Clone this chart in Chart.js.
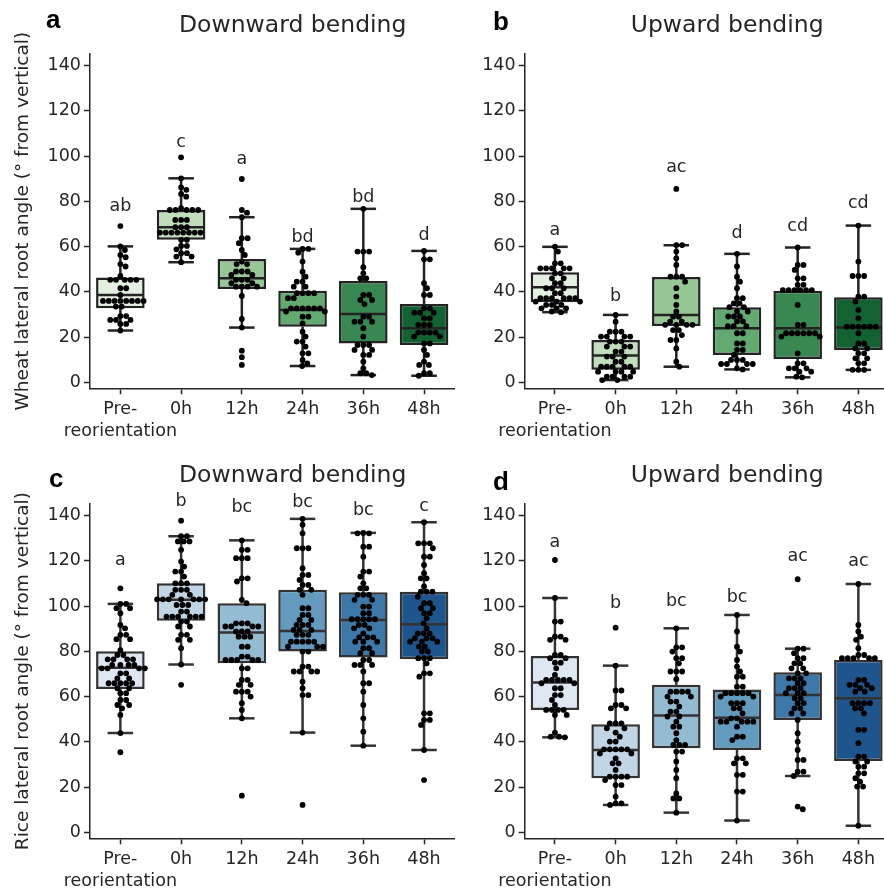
<!DOCTYPE html>
<html>
<head>
<meta charset="utf-8">
<script src="https://cdn.jsdelivr.net/npm/chart.js@4.4.0/dist/chart.umd.min.js"></script>
<style>
  html, body { margin: 0; padding: 0; overflow: hidden; background: #fff; width: 884px; height: 890px; }
  canvas { position: absolute; }
</style>
</head>
<body>
<canvas id="panelA" width="460" height="450" style="left:0;top:0"></canvas>
<canvas id="panelB" width="440" height="450" style="left:460px;top:0"></canvas>
<canvas id="panelC" width="460" height="440" style="left:0;top:450px"></canvas>
<canvas id="panelD" width="440" height="440" style="left:460px;top:450px"></canvas>
<script>
// categories and ticks
const categories = ["Pre-\nreorientation", "0h", "12h", "24h", "36h", "48h"];
const yTicks = [0, 20, 40, 60, 80, 100, 120, 140];

const greens = ["#e3f0df", "#c0debb", "#96c794", "#63aa70", "#398751", "#136332"];
const blues = ["#dde8f2", "#c0d5e5", "#93bbd2", "#629bbe", "#3d79a8", "#1e558c"];

// a: wheat, downward bending
const wheatDownPoints = [
  [69.1, 60.1, 58.5, 56.3, 55.3, 52.3, 51.2, 47.0, 45.3, 45.3, 45.3, 45.3, 45.3, 41.6, 41.6, 38.6, 36.0, 36.0, 36.0, 36.0, 36.0, 36.0, 36.0, 36.0, 33.5, 33.5, 29.3, 29.3, 27.6, 27.6, 27.6, 25.8, 25.8, 22.9],
  [99.5, 90.2, 86.2, 85.1, 83.3, 82.1, 77.0, 76.2, 76.2, 76.2, 76.2, 76.2, 71.8, 71.8, 71.8, 68.6, 68.6, 68.6, 66.2, 66.2, 66.2, 66.2, 66.2, 66.2, 66.2, 66.2, 63.0, 63.0, 60.3, 60.3, 58.8, 57.1, 57.1, 55.6, 55.6, 53.1],
  [89.9, 76.2, 75.0, 73.0, 63.7, 63.7, 61.5, 58.5, 56.3, 53.4, 52.3, 52.3, 49.0, 49.0, 49.0, 47.5, 47.5, 45.3, 45.3, 45.3, 43.8, 43.8, 42.3, 42.3, 42.3, 42.3, 38.2, 28.0, 24.2, 14.0, 11.1, 7.7],
  [59.0, 59.0, 57.3, 53.4, 48.9, 46.7, 44.5, 44.5, 42.3, 42.3, 39.4, 39.4, 39.4, 39.4, 37.2, 37.2, 32.7, 32.7, 32.7, 32.7, 32.7, 32.7, 31.3, 31.3, 29.0, 29.0, 26.1, 22.4, 20.2, 18.0, 18.0, 15.8, 12.8, 12.8, 9.9, 8.4, 7.2],
  [76.7, 57.8, 57.8, 57.8, 50.9, 48.2, 46.0, 46.0, 38.6, 38.6, 36.4, 36.4, 34.6, 29.0, 29.0, 26.8, 26.8, 26.8, 23.9, 20.2, 16.5, 16.5, 16.5, 14.3, 14.3, 12.1, 12.1, 9.1, 6.2, 4.0, 4.0, 3.2],
  [58.1, 54.4, 54.4, 43.8, 41.6, 38.6, 38.6, 32.7, 32.7, 30.8, 30.8, 30.8, 28.3, 28.3, 25.4, 25.4, 25.4, 22.0, 22.0, 22.0, 22.0, 20.2, 20.2, 17.2, 17.2, 14.3, 12.1, 9.1, 7.7, 7.7, 4.0, 4.0, 2.9]
];
const wheatDownQ1 = [32.7, 63.0, 41.3, 24.6, 17.2, 16.5];
const wheatDownMedian = [38.6, 68.6, 46.0, 32.0, 30.2, 23.9];
const wheatDownQ3 = [46.3, 76.2, 54.5, 40.5, 44.8, 34.6];
const wheatDownLow = [22.9, 53.1, 24.2, 7.2, 3.2, 2.9];
const wheatDownHigh = [60.1, 90.2, 73.0, 59.0, 76.7, 58.1];
const wheatDownLetters = ["ab", "c", "a", "bd", "bd", "d"];
const wheatDownLetterY = [75.9, 104.2, 96.4, 62.0, 79.7, 62.9];

// b: wheat, upward bending
const wheatUpPoints = [
  [60.0, 57.8, 52.6, 52.6, 50.4, 50.4, 50.4, 50.4, 50.4, 48.2, 48.2, 46.0, 46.0, 43.8, 43.8, 41.6, 41.6, 41.6, 39.4, 39.4, 37.2, 37.2, 37.2, 37.2, 37.2, 37.2, 35.7, 35.7, 35.7, 34.2, 34.2, 34.2, 32.7, 32.7, 32.7, 31.3, 31.0],
  [29.8, 26.8, 22.4, 22.4, 22.4, 20.2, 20.2, 20.2, 20.2, 18.0, 18.0, 18.0, 15.8, 15.8, 15.8, 13.6, 13.6, 11.4, 11.4, 11.4, 9.1, 9.1, 6.9, 6.9, 6.9, 6.9, 6.9, 4.7, 4.7, 4.7, 4.7, 2.5, 2.5, 2.5, 2.5, 1.0, 1.0],
  [85.5, 60.7, 60.7, 57.8, 54.8, 51.9, 46.7, 46.7, 46.7, 44.5, 41.6, 37.9, 34.2, 31.3, 29.0, 29.0, 26.8, 26.8, 25.4, 25.4, 25.4, 25.4, 23.1, 23.1, 20.9, 18.7, 18.7, 15.0, 9.1, 6.9],
  [56.8, 51.2, 46.7, 44.5, 41.6, 37.2, 37.2, 34.9, 34.9, 33.2, 33.2, 31.3, 31.3, 29.1, 29.1, 29.1, 26.9, 26.9, 24.8, 24.8, 24.8, 21.7, 21.7, 17.2, 17.2, 14.3, 14.3, 12.1, 9.9, 9.9, 9.9, 8.1, 8.1, 8.1, 8.1, 6.2, 5.7],
  [59.6, 51.9, 51.9, 49.7, 46.0, 46.0, 43.1, 43.1, 40.8, 40.8, 40.8, 40.8, 40.8, 40.8, 34.2, 25.4, 25.4, 21.7, 21.7, 21.7, 21.7, 21.7, 21.7, 20.2, 20.2, 12.8, 8.4, 8.4, 6.2, 6.2, 6.2, 4.7, 4.7, 2.5, 2.2],
  [69.3, 53.4, 47.0, 47.0, 47.0, 37.9, 37.9, 35.7, 32.0, 28.3, 24.6, 24.6, 24.6, 24.6, 24.6, 24.6, 21.7, 17.2, 17.2, 15.0, 15.0, 12.8, 12.8, 10.6, 10.6, 8.4, 8.4, 5.5, 5.5, 5.5]
];
const wheatUpQ1 = [35.4, 5.5, 24.9, 12.1, 10.3, 14.3];
const wheatUpMedian = [42.0, 11.8, 29.8, 23.9, 23.9, 24.2];
const wheatUpQ3 = [48.7, 18.7, 46.6, 33.2, 40.5, 37.6];
const wheatUpLow = [31.0, 1.0, 6.9, 5.7, 2.2, 5.5];
const wheatUpHigh = [59.9, 29.8, 60.6, 56.8, 59.6, 69.3];
const wheatUpLetters = ["a", "b", "ac", "d", "cd", "cd"];
const wheatUpLetterY = [65.2, 36.0, 93.2, 64.0, 66.9, 77.0];

// c: rice, downward bending
const riceDownPoints = [
  [107.9, 101.0, 101.0, 99.1, 99.1, 96.9, 91.7, 90.2, 87.3, 87.3, 85.4, 85.4, 80.6, 78.4, 78.4, 76.5, 76.5, 76.5, 76.5, 74.0, 74.0, 74.0, 74.0, 72.5, 72.5, 72.5, 72.5, 70.3, 70.3, 68.1, 68.1, 65.9, 65.9, 65.9, 65.9, 65.9, 63.7, 63.7, 61.5, 61.5, 58.5, 58.5, 56.3, 56.3, 54.8, 51.9, 43.9, 35.4],
  [137.8, 130.9, 130.9, 128.6, 128.6, 128.6, 124.9, 119.7, 117.5, 115.3, 115.3, 113.1, 110.1, 110.1, 110.1, 107.2, 107.2, 107.2, 105.0, 105.0, 103.0, 103.0, 103.0, 103.0, 103.0, 103.0, 103.0, 100.5, 100.5, 100.5, 97.6, 97.6, 95.4, 95.4, 95.4, 95.4, 95.4, 95.4, 93.2, 93.2, 91.0, 91.0, 87.3, 87.3, 85.1, 85.1, 81.4, 74.2, 65.2],
  [129.1, 124.9, 124.9, 121.2, 121.2, 121.2, 112.3, 112.3, 110.9, 102.8, 101.3, 92.4, 92.4, 92.4, 91.0, 91.0, 91.0, 91.0, 88.8, 88.8, 88.8, 86.5, 86.5, 86.5, 82.1, 82.1, 77.7, 77.7, 76.2, 76.2, 76.2, 76.2, 76.2, 72.5, 72.5, 67.4, 67.4, 65.2, 65.2, 62.2, 62.2, 62.2, 60.0, 57.1, 54.1, 50.4, 16.2],
  [138.6, 136.0, 132.2, 125.6, 125.6, 125.6, 116.8, 113.8, 113.8, 111.6, 109.4, 109.4, 107.2, 107.2, 105.0, 99.1, 99.1, 96.1, 96.1, 93.9, 93.9, 91.7, 91.7, 91.7, 89.5, 89.5, 89.5, 87.3, 87.3, 87.3, 84.3, 84.3, 84.3, 84.3, 84.3, 82.1, 82.1, 82.1, 79.9, 79.9, 73.3, 73.3, 71.1, 71.1, 71.1, 71.1, 66.6, 63.7, 60.7, 60.7, 44.1, 12.1],
  [132.4, 132.2, 132.2, 126.3, 126.3, 121.9, 115.3, 115.3, 113.1, 110.1, 107.9, 107.9, 105.0, 105.0, 105.0, 102.8, 102.8, 99.8, 99.8, 96.9, 96.9, 94.2, 94.2, 94.2, 94.2, 94.2, 91.7, 91.7, 90.2, 90.2, 88.0, 86.2, 86.2, 86.2, 84.3, 84.3, 84.3, 81.4, 81.4, 79.2, 79.2, 76.2, 76.2, 74.0, 74.0, 74.0, 71.1, 65.9, 65.9, 62.2, 56.3, 50.4, 44.5, 38.3],
  [137.1, 127.8, 127.8, 127.8, 125.6, 121.9, 121.9, 118.2, 114.6, 112.3, 112.3, 108.7, 106.4, 106.4, 106.4, 104.2, 101.3, 101.3, 99.1, 99.1, 96.9, 96.9, 94.6, 92.4, 90.2, 88.0, 88.0, 88.0, 85.8, 85.8, 85.8, 84.3, 84.3, 84.3, 82.1, 82.1, 79.9, 79.9, 77.0, 77.0, 77.0, 74.7, 70.3, 70.3, 68.8, 52.6, 52.6, 49.7, 49.7, 47.5, 36.4, 23.1]
];
const riceDownQ1 = [63.4, 93.5, 74.7, 79.9, 77.3, 76.5];
const riceDownMedian = [72.8, 102.8, 88.3, 89.0, 93.9, 92.0];
const riceDownQ3 = [80.1, 110.1, 101.3, 107.2, 106.1, 106.4];
const riceDownLow = [43.9, 74.2, 50.4, 44.1, 38.3, 36.4];
const riceDownHigh = [101.0, 130.9, 129.1, 138.6, 132.4, 137.1];
const riceDownLetters = ["a", "b", "bc", "bc", "bc", "c"];
const riceDownLetterY = [118.2, 144.3, 141.8, 144.0, 140.1, 142.1];

// d: rice, upward bending
const riceUpPoints = [
  [120.4, 103.6, 93.2, 93.2, 86.5, 86.5, 85.1, 85.1, 78.4, 78.4, 77.0, 77.0, 75.0, 75.0, 72.5, 69.6, 67.4, 67.4, 67.4, 67.4, 67.4, 65.9, 65.9, 63.7, 63.7, 60.7, 60.7, 58.5, 56.3, 54.1, 54.1, 54.1, 54.1, 51.9, 51.9, 44.1, 42.3, 42.3, 42.0],
  [90.5, 73.7, 62.7, 62.7, 56.3, 56.3, 54.8, 54.8, 48.2, 48.2, 48.2, 46.0, 46.0, 44.1, 42.3, 40.1, 40.1, 36.7, 36.7, 36.7, 36.7, 36.7, 34.9, 34.9, 32.7, 30.5, 30.5, 27.6, 24.6, 24.6, 24.6, 24.6, 23.1, 20.9, 20.9, 15.8, 12.8, 12.8, 12.1],
  [90.2, 81.8, 81.8, 79.9, 77.0, 77.0, 74.7, 71.1, 71.1, 71.1, 67.7, 62.2, 62.2, 62.2, 62.2, 60.0, 60.0, 57.8, 57.8, 55.6, 53.4, 53.4, 51.2, 51.2, 48.9, 46.7, 46.7, 43.8, 40.8, 38.6, 38.6, 38.6, 35.7, 35.7, 31.3, 27.6, 23.9, 17.2, 15.0, 15.0, 8.7],
  [96.1, 88.8, 82.1, 79.9, 76.2, 73.3, 71.1, 68.8, 68.8, 64.4, 64.4, 61.5, 61.5, 61.5, 61.5, 61.5, 60.0, 60.0, 57.1, 57.1, 57.1, 54.8, 54.8, 52.6, 50.4, 50.4, 48.9, 48.9, 48.9, 48.9, 48.9, 46.7, 42.3, 42.3, 40.8, 32.7, 32.7, 30.5, 30.5, 25.4, 25.4, 18.0, 18.0, 5.2],
  [111.9, 81.2, 81.2, 79.2, 77.0, 77.0, 74.7, 74.7, 72.5, 72.5, 70.3, 70.3, 68.1, 68.1, 68.1, 65.9, 65.9, 63.7, 63.7, 63.7, 61.5, 61.5, 61.5, 59.3, 59.3, 57.1, 57.1, 54.8, 54.8, 52.6, 52.6, 49.7, 43.8, 40.1, 36.4, 32.0, 32.0, 26.8, 26.8, 24.9, 11.4, 10.2],
  [109.8, 91.7, 88.8, 86.5, 85.1, 81.4, 78.4, 78.4, 77.0, 77.0, 77.0, 77.0, 77.0, 67.4, 67.4, 65.2, 65.2, 65.2, 63.7, 63.7, 62.2, 62.2, 57.1, 57.1, 57.1, 57.1, 54.8, 54.8, 52.6, 45.3, 45.3, 39.4, 33.5, 33.5, 31.3, 31.3, 29.0, 29.0, 26.1, 26.1, 23.9, 22.4, 20.2, 20.2, 2.9]
];
const riceUpQ1 = [54.1, 23.9, 37.2, 36.4, 49.7, 31.5];
const riceUpMedian = [66.2, 36.4, 51.6, 50.7, 60.7, 59.3];
const riceUpQ3 = [78.0, 47.8, 65.2, 63.2, 70.8, 76.2];
const riceUpLow = [42.0, 12.1, 8.7, 5.2, 24.9, 2.9];
const riceUpHigh = [103.6, 73.7, 90.2, 96.1, 81.2, 109.8];
const riceUpLetters = ["a", "b", "bc", "bc", "ac", "ac"];
const riceUpLetterY = [126.3, 99.1, 100.1, 102.0, 120.0, 117.9];

Chart.defaults.font.family = "'DejaVu Sans', sans-serif";
Chart.defaults.color = "#262626";
const ink = "#262626";
const dotR = 2.9;
const lineW = 2.5;

// simple beeswarm: each point goes to the free spot nearest the centre
function swarmOffsets(ys, d) {
  const order = ys.map((y, i) => i).sort((a, b) => ys[a] - ys[b]);
  const placed = [];
  const out = new Array(ys.length).fill(0);
  for (const i of order) {
    const y = ys[i];
    const near = placed.filter(p => Math.abs(p.y - y) < d);
    const cands = [0];
    near.forEach(p => {
      const dx = Math.sqrt(d * d - (p.y - y) * (p.y - y));
      cands.push(p.x + dx, p.x - dx);
    });
    cands.sort((a, b) => Math.abs(a) - Math.abs(b));
    let x = 0;
    for (const c of cands) {
      if (near.every(p => (p.x - c) ** 2 + (p.y - y) ** 2 >= d * d - 0.01)) { x = c; break; }
    }
    placed.push({ x, y });
    out[i] = x;
  }
  return out;
}

function boxParts(p) {
  return {
    id: "boxParts",
    afterDatasetsUpdate(chart) {
      const meta = chart.getDatasetMeta(0);
      const raw = chart.data.datasets[0].data;
      const groups = new Map();
      meta.data.forEach((el, i) => {
        const k = raw[i].x;
        if (!groups.has(k)) groups.set(k, []);
        groups.get(k).push(el);
      });
      groups.forEach(els => {
        const offs = swarmOffsets(els.map(e => e.y), dotR * 2);
        els.forEach((e, j) => { e.x += offs[j]; });
      });
    },
    beforeDatasetDraw(chart, args) {
      if (args.meta.type !== "scatter") return;
      const { ctx, scales: { x, y } } = chart;
      const step = x.getPixelForValue(1) - x.getPixelForValue(0);
      const boxW = step * 0.8, capW = step * 0.42;
      ctx.save();
      ctx.strokeStyle = p.gray;
      ctx.lineWidth = lineW;
      const seg = (x1, y1, x2, y2) => { ctx.beginPath(); ctx.moveTo(x1, y1); ctx.lineTo(x2, y2); ctx.stroke(); };
      p.q1.forEach((v, i) => {
        const cx = x.getPixelForValue(i);
        seg(cx, y.getPixelForValue(p.q3[i]), cx, y.getPixelForValue(p.hi[i]));
        seg(cx, y.getPixelForValue(v), cx, y.getPixelForValue(p.lo[i]));
        seg(cx - capW / 2, y.getPixelForValue(p.hi[i]), cx + capW / 2, y.getPixelForValue(p.hi[i]));
        seg(cx - capW / 2, y.getPixelForValue(p.lo[i]), cx + capW / 2, y.getPixelForValue(p.lo[i]));
        seg(cx - boxW / 2 + 1, y.getPixelForValue(p.med[i]), cx + boxW / 2 - 1, y.getPixelForValue(p.med[i]));
      });
      ctx.restore();
    },
    afterDraw(chart) {
      const { ctx, chartArea, scales: { x, y } } = chart;
      ctx.save();
      ctx.fillStyle = ink;
      ctx.textAlign = "center";
      ctx.textBaseline = "alphabetic";
      ctx.font = "17.5px 'DejaVu Sans'";
      p.letters.forEach((t, i) => ctx.fillText(t, x.getPixelForValue(i), y.getPixelForValue(p.letterY[i])));
      ctx.font = "23.5px 'DejaVu Sans'";
      ctx.fillText(p.title, (chartArea.left + chartArea.right) / 2 + 20.5, 31.7);
      ctx.fillStyle = "#000";
      ctx.textAlign = "left";
      ctx.font = "bold 26px 'Liberation Sans'";
      ctx.fillText(p.tag, p.tagX, p.tagY);
      ctx.restore();
    }
  };
}

function makePanel(p) {
  const pts = [];
  p.points.forEach((arr, i) => arr.forEach(v => pts.push({ x: categories[i], y: v })));
  return new Chart(document.getElementById(p.id), {
    type: "bar",
    data: {
      labels: categories,
      datasets: [
        { type: "scatter", data: pts, order: 0, pointRadius: dotR, pointBackgroundColor: "#000", pointBorderWidth: 0, pointHoverRadius: dotR },
        { type: "bar", data: p.q1.map((v, i) => [v, p.q3[i]]), order: 1, backgroundColor: p.colors, borderColor: p.gray, borderWidth: lineW, borderSkipped: false, barPercentage: 0.8, categoryPercentage: 1 }
      ]
    },
    options: {
      responsive: false,
      animation: false,
      events: [],
      layout: { padding: { left: 0, top: 54, right: p.padRight, bottom: 0 } },
      plugins: { legend: { display: false }, tooltip: { enabled: false } },
      scales: {
        x: {
          offset: true,
          afterFit: s => { s.height = p.xAxisH; },
          grid: { offset: false, drawOnChartArea: false, tickLength: 6, tickColor: ink, tickWidth: 1.5 },
          border: { color: ink, width: 1.5 },
          ticks: {
            color: ink, padding: 4, maxRotation: 0, autoSkip: false,
            font: { size: 17.5, lineHeight: 1.25 },
            callback(v) { return this.getLabelForValue(v).split("\n"); }
          }
        },
        y: {
          min: -2.65, max: 145.17,
          afterBuildTicks: s => { s.ticks = yTicks.map(v => ({ value: v })); },
          afterFit: s => { s.width = p.yAxisW; },
          grid: { drawOnChartArea: false, tickLength: 6, tickColor: ink, tickWidth: 1.5 },
          border: { color: ink, width: 1.5 },
          ticks: { color: ink, padding: 3, font: { size: 17.5 } },
          title: p.yTitle
            ? { display: true, text: p.yTitle, color: ink, font: { size: 18.5 }, padding: { top: 12, bottom: 0 } }
            : { display: false }
        }
      }
    },
    plugins: [boxParts(p)]
  });
}

makePanel({
  id: "panelA", points: wheatDownPoints, q1: wheatDownQ1, med: wheatDownMedian, q3: wheatDownQ3,
  lo: wheatDownLow, hi: wheatDownHigh, letters: wheatDownLetters, letterY: wheatDownLetterY,
  colors: greens, gray: "#232323", title: "Downward bending", tag: "a", tagX: 46, tagY: 28,
  yTitle: "Wheat lateral root angle (° from vertical)", yAxisW: 90, padRight: 5.6, xAxisH: 61.7
});
makePanel({
  id: "panelB", points: wheatUpPoints, q1: wheatUpQ1, med: wheatUpMedian, q3: wheatUpQ3,
  lo: wheatUpLow, hi: wheatUpHigh, letters: wheatUpLetters, letterY: wheatUpLetterY,
  colors: greens, gray: "#232323", title: "Upward bending", tag: "b", tagX: 33, tagY: 30,
  yTitle: null, yAxisW: 64.6, padRight: 11.3, xAxisH: 61.7
});
makePanel({
  id: "panelC", points: riceDownPoints, q1: riceDownQ1, med: riceDownMedian, q3: riceDownQ3,
  lo: riceDownLow, hi: riceDownHigh, letters: riceDownLetters, letterY: riceDownLetterY,
  colors: blues, gray: "#333333", title: "Downward bending", tag: "c", tagX: 49, tagY: 37,
  yTitle: "Rice lateral root angle (° from vertical)", yAxisW: 90, padRight: 5.6, xAxisH: 51.7
});
makePanel({
  id: "panelD", points: riceUpPoints, q1: riceUpQ1, med: riceUpMedian, q3: riceUpQ3,
  lo: riceUpLow, hi: riceUpHigh, letters: riceUpLetters, letterY: riceUpLetterY,
  colors: blues, gray: "#333333", title: "Upward bending", tag: "d", tagX: 33, tagY: 40,
  yTitle: null, yAxisW: 64.6, padRight: 11.3, xAxisH: 51.7
});
</script>
</body>
</html>
